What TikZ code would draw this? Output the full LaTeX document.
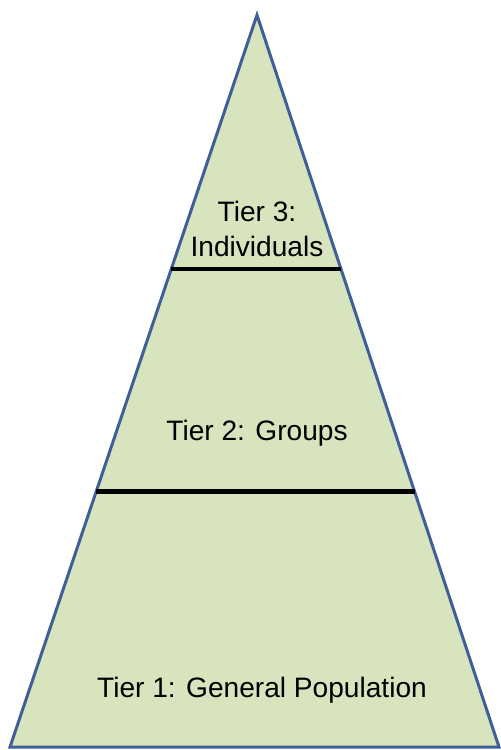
\documentclass[tikz,border=0pt]{standalone}
\usepackage{fontspec}
\setmainfont{Liberation Sans}
\usetikzlibrary{calc}
\definecolor{tierfill}{HTML}{D7E4BD}
\definecolor{tieredge}{HTML}{3F5F97}
\tikzset{
  tiertext/.style={font=\fontsize{16}{19.5}\selectfont, align=center, inner sep=0pt},
  tierline/.style={line width=2.8pt, black}
}
\begin{document}
\begin{tikzpicture}[x=0.02cm,y=-0.02cm]
\useasboundingbox (0,0) rectangle (500,750);
% pyramid outline
\coordinate (apex) at (257,15);
\coordinate (bl) at (10,747);
\coordinate (br) at (499,747);
\draw[fill=tierfill, draw=tieredge, line width=1.7pt] (bl)--(apex)--(br)--cycle;
% tier borders
\coordinate (t3l) at ($(apex)!0.347!(bl)$);
\coordinate (t3r) at ($(apex)!0.347!(br)$);
\coordinate (t2l) at ($(apex)!0.651!(bl)$);
\coordinate (t2r) at ($(apex)!0.651!(br)$);
\draw[tierline] (t3l) -- (t3r);
\draw[tierline] (t2l) -- (t2r);
% labels
\node[tiertext] (tier3) at (257,229) {Tier 3:\\Individuals};
\node[tiertext] (tier2) at (257,433) {Tier 2: Groups};
\node[tiertext] (tier1) at (262,690) {Tier 1: General Population};
\end{tikzpicture}
\end{document}
